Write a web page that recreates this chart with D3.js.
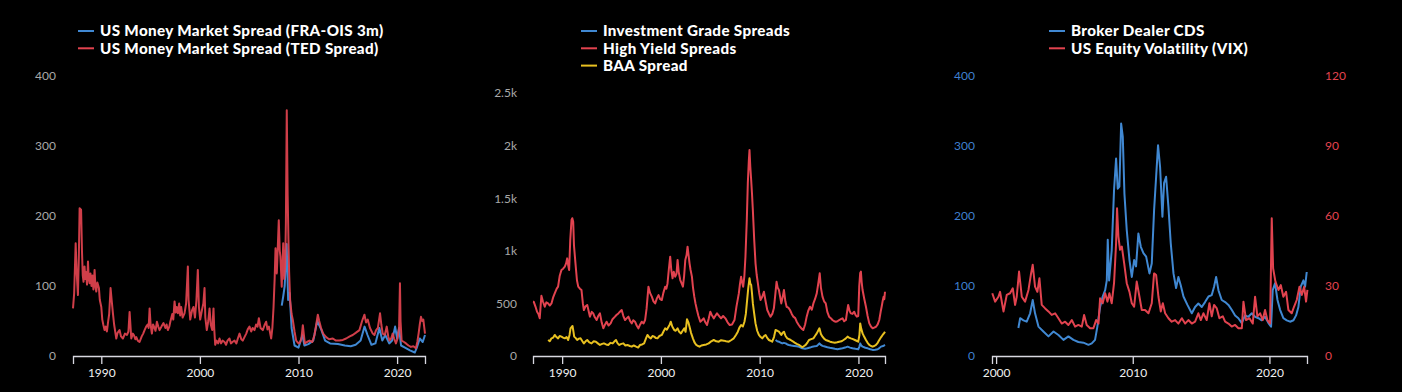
<!DOCTYPE html>
<html>
<head>
<meta charset="utf-8">
<script src="https://cdn.jsdelivr.net/npm/d3@7"></script>
<style>
  html, body { margin: 0; padding: 0; background: #000; }
  svg { display: block; }
  .tick text { font-family: Lato, "Open Sans", sans-serif; }
</style>
</head>
<body>
<svg id="chart" width="1402" height="392"></svg>
<script>
// ---------------- DATA ----------------
const xTickYears = [1990, 2000, 2010, 2020];
const xTickYears3 = [2000, 2010, 2020];
const yTicks1 = [0, 100, 200, 300, 400];
const yTicks2 = [0, 500, 1000, 1500, 2000, 2500];
const yTicks3Left = [0, 100, 200, 300, 400];
const yTicks3Right = [0, 30, 60, 90, 120];

const legend1 = ["US Money Market Spread (FRA-OIS 3m)", "US Money Market Spread (TED Spread)"];
const legend2 = ["Investment Grade Spreads", "High Yield Spreads", "BAA Spread"];
const legend3 = ["Broker Dealer CDS", "US Equity Volatility (VIX)"];

// Panel 1: TED spread (bp)
const tedSpread = [
 [1987.13,68],[1987.25,90],[1987.4,161],[1987.5,120],[1987.63,87],[1987.72,140],[1987.8,211],[1987.95,209],[1988.04,150],[1988.12,115],
 [1988.2,106],[1988.3,128],[1988.38,110],[1988.45,120],[1988.55,102],[1988.65,135],[1988.72,112],[1988.81,104],[1988.9,118],[1989.0,100],
 [1989.1,115],[1989.2,95],[1989.32,123],[1989.4,100],[1989.49,92],[1989.6,105],[1989.76,97],[1989.85,80],[1990.0,70],[1990.1,52],
 [1990.2,45],[1990.33,37],[1990.45,42],[1990.57,35],[1990.7,50],[1990.8,60],[1990.94,97],[1991.05,80],[1991.18,61],[1991.3,45],
 [1991.52,25],[1991.65,33],[1991.85,37],[1992.0,28],[1992.19,25],[1992.4,32],[1992.6,30],[1992.75,35],[1992.87,63],[1993.04,25],
 [1993.2,32],[1993.3,30],[1993.45,24],[1993.55,27],[1993.7,22],[1993.88,20],[1994.1,28],[1994.25,32],[1994.39,37],[1994.55,42],
 [1994.7,45],[1994.8,40],[1994.9,68],[1995.0,45],[1995.13,32],[1995.25,45],[1995.4,40],[1995.5,36],[1995.64,49],[1995.78,42],
 [1995.91,37],[1996.1,42],[1996.31,47],[1996.5,40],[1996.62,45],[1996.75,37],[1996.9,42],[1997.0,49],[1997.2,60],[1997.3,52],
 [1997.43,78],[1997.55,62],[1997.65,70],[1997.77,61],[1997.9,75],[1998.0,58],[1998.1,70],[1998.25,55],[1998.44,61],[1998.6,75],
 [1998.78,128],[1998.85,80],[1999.02,52],[1999.2,65],[1999.35,70],[1999.5,55],[1999.65,80],[1999.79,123],[1999.9,70],[2000.03,52],
 [2000.2,65],[2000.35,75],[2000.47,97],[2000.55,55],[2000.7,37],[2000.85,50],[2000.98,68],[2001.1,45],[2001.25,37],[2001.38,68],
 [2001.45,40],[2001.55,16],[2001.7,22],[2001.85,18],[2001.99,25],[2002.15,18],[2002.3,22],[2002.5,20],[2002.65,16],[2002.8,22],
 [2003.0,25],[2003.15,18],[2003.3,20],[2003.51,22],[2003.7,18],[2003.85,25],[2004.02,32],[2004.2,24],[2004.35,22],[2004.52,27],
 [2004.7,32],[2004.85,38],[2005.03,42],[2005.2,35],[2005.35,40],[2005.54,37],[2005.7,45],[2005.85,42],[2005.98,54],[2006.15,40],
 [2006.38,37],[2006.55,44],[2006.72,49],[2006.85,38],[2007.0,42],[2007.23,25],[2007.35,40],[2007.47,70],[2007.58,110],[2007.67,154],
 [2007.8,118],[2008.0,194],[2008.1,150],[2008.17,142],[2008.3,99],[2008.45,161],[2008.55,110],[2008.65,130],[2008.72,190],[2008.81,351],
 [2008.9,230],[2008.98,166],[2009.05,120],[2009.15,80],[2009.3,60],[2009.42,52],[2009.6,35],[2009.76,22],[2010.0,18],[2010.17,20],
 [2010.3,25],[2010.44,44],[2010.55,30],[2010.64,18],[2010.85,20],[2011.11,22],[2011.4,20],[2011.62,30],[2011.8,45],[2011.96,59],
 [2012.1,50],[2012.29,40],[2012.5,32],[2012.8,27],[2013.1,24],[2013.48,25],[2013.8,22],[2014.15,22],[2014.5,23],[2014.83,25],
 [2015.2,28],[2015.5,30],[2015.8,33],[2016.18,37],[2016.45,50],[2016.69,59],[2016.85,48],[2017.02,52],[2017.25,40],[2017.53,32],
 [2017.7,30],[2017.87,37],[2018.05,40],[2018.27,61],[2018.4,45],[2018.54,32],[2018.75,30],[2018.95,42],[2019.1,28],[2019.22,22],
 [2019.4,25],[2019.55,32],[2019.7,25],[2019.88,18],[2020.05,25],[2020.2,40],[2020.29,104],[2020.35,50],[2020.46,22],[2020.7,20],
 [2020.9,18],[2021.15,15],[2021.4,13],[2021.65,14],[2021.91,11],[2022.05,20],[2022.18,32],[2022.3,45],[2022.42,56],[2022.55,50],
 [2022.66,52],[2022.83,32]
];
// Panel 1: FRA-OIS 3m (bp)
const fraOis = [
 [2008.3,72],[2008.45,85],[2008.6,100],[2008.8,160],[2008.95,80],[2009.1,90],[2009.3,40],[2009.6,15],[2010.0,12],[2010.4,30],
 [2010.6,15],[2011.0,17],[2011.5,22],[2011.9,50],[2012.3,38],[2012.7,22],[2013.2,18],[2014.0,17],[2014.7,15],[2015.3,14],
 [2015.8,16],[2016.3,22],[2016.7,42],[2017.0,30],[2017.4,16],[2017.8,18],[2018.2,40],[2018.5,22],[2018.8,30],[2019.2,18],
 [2019.5,22],[2019.8,42],[2020.0,25],[2020.2,40],[2020.4,15],[2020.8,12],[2021.3,8],[2021.8,5],[2022.0,12],[2022.3,25],
 [2022.6,20],[2022.83,30]
];

// Panel 2: High yield spreads (bp)
const highYield = [
 [1987.05,516],[1987.12,516],[1987.3,470],[1987.46,421],[1987.6,400],[1987.73,358],[1987.9,573],[1988.05,520],[1988.24,468],[1988.4,510],
 [1988.58,500],[1988.75,480],[1988.92,500],[1989.1,560],[1989.25,595],[1989.45,640],[1989.59,659],[1989.75,760],[1989.93,817],[1990.1,830],
 [1990.27,849],[1990.4,880],[1990.51,928],[1990.62,860],[1990.71,817],[1990.82,1100],[1990.95,1293],[1991.03,1310],[1991.12,1277],[1991.2,1050],
 [1991.35,881],[1991.5,720],[1991.63,659],[1991.8,640],[1991.96,627],[1992.1,500],[1992.2,437],[1992.35,470],[1992.54,485],[1992.7,420],
 [1992.81,374],[1993.0,420],[1993.15,405],[1993.3,370],[1993.49,342],[1993.65,380],[1993.83,405],[1994.0,320],[1994.17,263],[1994.35,300],
 [1994.5,326],[1994.7,290],[1994.91,310],[1995.1,350],[1995.35,374],[1995.5,390],[1995.69,405],[1995.85,420],[1996.03,437],[1996.2,380],
 [1996.37,342],[1996.55,360],[1996.71,374],[1996.9,330],[1997.05,310],[1997.2,340],[1997.38,326],[1997.55,290],[1997.72,263],[1997.9,300],
 [1998.06,326],[1998.25,310],[1998.4,342],[1998.55,450],[1998.74,659],[1998.9,600],[1999.08,564],[1999.25,520],[1999.42,500],[1999.6,550],
 [1999.76,579],[1999.92,540],[2000.09,532],[2000.25,600],[2000.43,659],[2000.55,640],[2000.67,690],[2000.8,820],[2000.94,944],[2001.05,820],
 [2001.18,738],[2001.3,800],[2001.45,754],[2001.58,780],[2001.69,913],[2001.8,800],[2001.96,722],[2002.1,690],[2002.23,659],[2002.35,760],
 [2002.47,913],[2002.6,960],[2002.7,1039],[2002.8,960],[2002.9,881],[2003.0,820],[2003.14,754],[2003.25,650],[2003.38,564],[2003.5,500],
 [2003.65,437],[2003.8,380],[2003.99,326],[2004.15,340],[2004.33,358],[2004.5,320],[2004.67,294],[2004.85,360],[2005.0,421],[2005.15,390],
 [2005.35,358],[2005.5,380],[2005.68,405],[2005.9,380],[2006.09,358],[2006.3,380],[2006.53,358],[2006.75,320],[2006.97,294],[2007.2,300],
 [2007.45,342],[2007.65,470],[2007.89,595],[2008.0,680],[2008.12,754],[2008.22,700],[2008.33,659],[2008.45,760],[2008.56,944],[2008.7,1300],
 [2008.8,1641],[2008.9,1850],[2008.97,1958],[2009.05,1800],[2009.14,1673],[2009.22,1550],[2009.31,1388],[2009.45,1100],[2009.58,881],[2009.7,770],
 [2009.82,690],[2009.95,600],[2010.09,532],[2010.25,560],[2010.43,611],[2010.6,520],[2010.77,437],[2010.95,400],[2011.1,374],[2011.28,400],
 [2011.44,453],[2011.6,600],[2011.71,706],[2011.82,650],[2011.95,627],[2012.08,560],[2012.19,500],[2012.33,560],[2012.46,627],[2012.6,520],
 [2012.73,468],[2012.9,460],[2013.07,437],[2013.25,400],[2013.41,374],[2013.6,360],[2013.75,326],[2013.92,300],[2014.08,278],[2014.25,260],
 [2014.42,247],[2014.6,300],[2014.76,374],[2014.92,430],[2015.1,468],[2015.28,440],[2015.44,500],[2015.6,540],[2015.78,595],[2015.95,700],
 [2016.08,786],[2016.2,650],[2016.36,564],[2016.52,520],[2016.69,500],[2016.85,420],[2017.03,374],[2017.2,360],[2017.37,342],[2017.55,330],
 [2017.71,326],[2017.88,330],[2018.05,342],[2018.22,350],[2018.39,358],[2018.55,330],[2018.73,342],[2018.85,420],[2018.96,485],[2019.1,430],
 [2019.23,405],[2019.4,400],[2019.57,421],[2019.7,390],[2019.84,374],[2019.98,380],[2020.08,659],[2020.18,790],[2020.25,802],[2020.33,700],
 [2020.42,627],[2020.6,540],[2020.76,468],[2020.93,380],[2021.1,310],[2021.27,280],[2021.44,263],[2021.6,270],[2021.78,278],[2021.95,300],
 [2022.11,342],[2022.25,420],[2022.35,468],[2022.45,520],[2022.55,564],[2022.62,540],[2022.69,611]
];
// Panel 2: BAA spread (bp)
const baaSpread = [
 [1988.58,152],[1988.75,140],[1988.92,168],[1989.1,175],[1989.25,200],[1989.42,180],[1989.59,168],[1989.75,190],[1989.93,184],[1990.1,175],
 [1990.27,168],[1990.45,180],[1990.61,152],[1990.75,200],[1990.85,263],[1991.05,285],[1991.15,230],[1991.22,184],[1991.38,170],[1991.52,152],
 [1991.7,165],[1991.86,168],[1992.05,140],[1992.2,120],[1992.38,140],[1992.54,152],[1992.75,130],[1992.98,120],[1993.2,140],[1993.42,136],
 [1993.62,120],[1993.83,105],[1994.05,115],[1994.23,120],[1994.45,110],[1994.67,105],[1994.9,125],[1995.12,120],[1995.3,140],[1995.45,152],
 [1995.62,120],[1995.79,105],[1996.0,115],[1996.2,120],[1996.4,100],[1996.61,105],[1996.85,95],[1997.05,89],[1997.25,100],[1997.49,89],
 [1997.7,80],[1997.89,105],[1998.1,110],[1998.3,120],[1998.5,170],[1998.64,200],[1998.8,180],[1998.98,168],[1999.15,190],[1999.32,184],
 [1999.5,170],[1999.65,168],[1999.85,190],[2000.09,200],[2000.25,230],[2000.43,263],[2000.6,250],[2000.77,278],[2000.9,300],[2001.0,326],
 [2001.15,280],[2001.35,247],[2001.5,240],[2001.69,263],[2001.85,230],[2002.03,215],[2002.2,240],[2002.37,263],[2002.5,230],[2002.64,349],
 [2002.78,320],[2002.9,278],[2003.05,220],[2003.24,168],[2003.4,130],[2003.58,105],[2003.75,95],[2003.92,89],[2004.1,100],[2004.33,105],
 [2004.6,110],[2004.84,120],[2005.1,140],[2005.35,152],[2005.6,140],[2005.86,136],[2006.1,150],[2006.36,146],[2006.6,140],[2006.87,136],
 [2007.1,150],[2007.38,168],[2007.6,200],[2007.79,231],[2007.95,270],[2008.12,294],[2008.3,280],[2008.46,326],[2008.6,400],[2008.73,532],
 [2008.85,650],[2008.97,738],[2009.05,690],[2009.14,675],[2009.22,600],[2009.31,500],[2009.45,400],[2009.58,310],[2009.75,240],[2009.92,200],
 [2010.1,180],[2010.26,168],[2010.45,190],[2010.6,200],[2010.78,170],[2010.94,152],[2011.1,145],[2011.27,136],[2011.45,180],[2011.61,247],
 [2011.78,240],[2011.95,231],[2012.08,215],[2012.19,200],[2012.32,220],[2012.46,231],[2012.62,190],[2012.8,168],[2012.97,160],[2013.14,152],
 [2013.35,140],[2013.54,127],[2013.75,115],[2013.98,105],[2014.15,95],[2014.32,83],[2014.5,95],[2014.66,105],[2014.85,130],[2015.0,152],
 [2015.22,160],[2015.44,168],[2015.6,190],[2015.78,215],[2015.92,240],[2016.05,263],[2016.2,210],[2016.36,184],[2016.52,165],[2016.69,152],
 [2016.9,145],[2017.13,136],[2017.35,130],[2017.61,127],[2017.85,130],[2018.05,136],[2018.28,140],[2018.49,152],[2018.7,165],[2018.9,184],
 [2019.05,175],[2019.23,168],[2019.45,160],[2019.64,152],[2019.8,145],[2019.98,136],[2020.1,200],[2020.18,310],[2020.28,260],[2020.42,215],
 [2020.6,180],[2020.76,152],[2020.93,125],[2021.1,105],[2021.27,95],[2021.44,89],[2021.6,95],[2021.78,105],[2021.95,125],[2022.11,152],
 [2022.3,180],[2022.45,200],[2022.58,215],[2022.69,231]
];
// Panel 2: Investment grade spreads (bp)
const invGrade = [
 [2011.61,152],[2011.78,140],[2011.95,136],[2012.12,128],[2012.29,120],[2012.45,125],[2012.63,120],[2012.8,110],[2012.97,105],[2013.2,100],
 [2013.48,96],[2013.75,92],[2013.98,89],[2014.15,80],[2014.32,73],[2014.6,70],[2014.83,73],[2015.1,80],[2015.34,89],[2015.55,92],
 [2015.78,96],[2015.92,108],[2016.05,120],[2016.2,105],[2016.36,96],[2016.6,90],[2016.86,83],[2017.1,78],[2017.37,73],[2017.62,68],
 [2017.88,64],[2018.12,68],[2018.39,73],[2018.65,80],[2018.9,89],[2019.15,80],[2019.4,73],[2019.7,68],[2019.98,64],[2020.1,90],
 [2020.18,120],[2020.28,100],[2020.42,89],[2020.7,78],[2020.93,73],[2021.2,64],[2021.44,58],[2021.7,60],[2021.95,64],[2022.12,75],
 [2022.28,89],[2022.5,95],[2022.69,105]
];

// Panel 3: Broker dealer CDS (bp, left axis)
const brokerCds = [
 [2001.63,40],[2001.76,54],[2002.0,51],[2002.24,49],[2002.49,61],[2002.68,80],[2002.85,61],[2003.1,42],[2003.46,35],[2003.83,28],
 [2004.2,35],[2004.56,30],[2004.93,23],[2005.29,28],[2005.66,23],[2006.02,20],[2006.39,19],[2006.76,16],[2007.0,18],[2007.24,23],
 [2007.41,42],[2007.61,70],[2007.8,85],[2007.98,94],[2008.1,108],[2008.17,166],[2008.27,108],[2008.46,151],[2008.63,237],[2008.78,282],
 [2008.9,239],[2009.02,242],[2009.15,332],[2009.27,313],[2009.39,232],[2009.56,180],[2009.76,137],[2009.93,113],[2010.1,137],[2010.24,128],
 [2010.41,175],[2010.59,156],[2010.78,147],[2010.98,142],[2011.22,118],[2011.39,132],[2011.56,208],[2011.71,256],[2011.85,301],[2012.0,270],
 [2012.17,199],[2012.29,247],[2012.44,256],[2012.61,213],[2012.78,161],[2012.98,118],[2013.17,97],[2013.34,113],[2013.51,101],[2013.71,85],
 [2014.0,73],[2014.32,61],[2014.56,70],[2014.8,75],[2015.05,70],[2015.29,77],[2015.54,85],[2015.78,87],[2015.95,99],[2016.1,113],
 [2016.27,94],[2016.51,80],[2016.76,77],[2017.0,73],[2017.24,66],[2017.49,58],[2017.73,54],[2017.98,47],[2018.22,58],[2018.46,56],
 [2018.71,61],[2018.95,56],[2019.2,54],[2019.44,51],[2019.68,56],[2019.93,47],[2020.12,42],[2020.24,94],[2020.41,104],[2020.59,80],
 [2020.78,66],[2021.02,54],[2021.27,51],[2021.51,49],[2021.76,51],[2021.95,58],[2022.12,70],[2022.29,99],[2022.49,108],[2022.61,99],
 [2022.73,120]
];
// Panel 3: VIX (right axis)
const vix = [
 [1999.72,26.9],[1999.93,23.3],[2000.17,25.4],[2000.29,27.5],[2000.54,19.1],[2000.78,26.2],[2001.02,26.9],[2001.22,29.0],[2001.39,21.9],[2001.51,25.4],
 [2001.68,36.2],[2001.88,25.4],[2002.12,23.3],[2002.37,28.3],[2002.54,34.7],[2002.68,39.1],[2002.85,29.7],[2003.02,27.5],[2003.17,33.3],[2003.34,21.9],
 [2003.59,20.4],[2003.83,19.1],[2004.07,17.6],[2004.32,18.3],[2004.56,16.2],[2004.8,13.9],[2005.05,14.7],[2005.29,13.3],[2005.54,15.4],[2005.78,12.6],
 [2006.02,13.3],[2006.27,12.6],[2006.44,17.6],[2006.63,13.3],[2006.88,11.9],[2007.12,11.9],[2007.32,15.4],[2007.49,13.9],[2007.61,24.7],[2007.8,22.6],
 [2007.98,26.9],[2008.15,23.3],[2008.29,26.9],[2008.46,22.6],[2008.63,31.2],[2008.78,48.3],[2008.85,63.3],[2008.95,51.2],[2009.07,45.5],[2009.2,46.9],
 [2009.37,39.8],[2009.56,31.2],[2009.76,27.5],[2009.93,22.6],[2010.1,21.1],[2010.29,31.9],[2010.49,25.4],[2010.66,19.7],[2010.9,19.7],[2011.15,18.3],
 [2011.39,22.6],[2011.56,35.4],[2011.71,34.7],[2011.88,25.4],[2012.05,19.1],[2012.2,22.6],[2012.37,18.3],[2012.61,16.2],[2012.85,14.7],[2013.1,15.4],
 [2013.34,13.9],[2013.59,16.2],[2013.83,13.9],[2014.07,15.4],[2014.32,13.9],[2014.56,14.7],[2014.8,18.3],[2014.98,15.4],[2015.17,18.3],[2015.41,15.4],
 [2015.61,22.6],[2015.78,17.0],[2015.95,21.9],[2016.15,20.4],[2016.34,16.2],[2016.59,17.0],[2016.76,14.7],[2017.0,13.9],[2017.24,12.6],[2017.49,13.3],
 [2017.73,11.9],[2017.98,11.9],[2018.1,23.3],[2018.29,15.4],[2018.54,16.2],[2018.78,13.9],[2018.95,25.4],[2019.12,17.0],[2019.32,18.3],[2019.51,15.4],
 [2019.68,19.7],[2019.85,15.4],[2020.05,13.9],[2020.17,59.0],[2020.27,37.6],[2020.44,31.9],[2020.66,28.3],[2020.83,30.4],[2021.02,25.4],[2021.22,27.5],
 [2021.39,19.7],[2021.63,18.3],[2021.8,21.1],[2022.0,24.0],[2022.2,29.7],[2022.37,26.2],[2022.54,29.7],[2022.68,23.3],[2022.78,28.3]
];

// ---------------- STYLE ----------------
const BLUE = "#4088d2", RED = "#e2434f", YELLOW = "#e8c020";
const AXIS_GREY = "#a8a8a8", TEXT_WHITE = "#ffffff";
const svg = d3.select("#chart");
svg.append("rect").attr("width", 1402).attr("height", 392).attr("fill", "#000");

function xAxis(g, x, ticks) {
  g.call(d3.axisBottom(x).tickValues(ticks).tickFormat(d3.format("d")).tickSizeOuter(0).tickSize(8).tickPadding(4));
  g.select(".domain").attr("stroke", "#d8d8e0").attr("stroke-width", 1.3);
  g.selectAll(".tick line").attr("stroke", "#d8d8e0").attr("stroke-width", 1.3);
  g.selectAll(".tick text").attr("fill", "#f0f0f0").attr("font-size", 12);
}
function yAxis(g, axis, color) {
  g.call(axis.tickSize(0).tickPadding(3));
  g.select(".domain").remove();
  g.selectAll(".tick text").attr("fill", color).attr("font-size", 12);
}
function legend(x0, y0, labels, colors) {
  const g = svg.append("g");
  labels.forEach((t, i) => {
    const y = y0 + i * 17.3;
    g.append("line").attr("x1", x0).attr("x2", x0 + 16).attr("y1", y).attr("y2", y)
      .attr("stroke", colors[i]).attr("stroke-width", 2);
    g.append("text").attr("x", x0 + 22).attr("y", y).attr("dy", "0.35em")
      .attr("fill", TEXT_WHITE).attr("font-family", "Lato, 'Open Sans', sans-serif")
      .attr("font-weight", 900).attr("font-size", 15.2).attr("letter-spacing", 0.35).text(t);
  });
}
function drawLine(data, x, y, color, opacity) {
  svg.append("path").datum(data)
    .attr("fill", "none").attr("stroke", color).attr("stroke-width", 2)
    .attr("stroke-linejoin", "round").attr("opacity", opacity || 1)
    .attr("d", d3.line().x(d => x(d[0])).y(d => y(d[1])));
}

const Y0 = 356;

// ---------------- PANEL 1 ----------------
{
  const x = d3.scaleLinear().domain(d3.extent(tedSpread.concat(fraOis), d => d[0])).range([73, 425]);
  const y = d3.scaleLinear().domain([0, 400]).range([Y0, 76]);
  svg.append("g").attr("transform", `translate(59,0)`)
    .call(g => yAxis(g, d3.axisLeft(y).tickValues(yTicks1), AXIS_GREY));
  drawLine(fraOis, x, y, BLUE);
  drawLine(tedSpread, x, y, RED, 0.92);
  svg.append("g").attr("transform", `translate(0,${Y0})`).call(g => xAxis(g, x, xTickYears));
  legend(78, 31, legend1, [BLUE, RED]);
}

// ---------------- PANEL 2 ----------------
{
  const x = d3.scaleLinear().domain(d3.extent(highYield, d => d[0])).range([533, 885]);
  const y = d3.scaleLinear().domain([0, 2500]).range([Y0, 93]);
  const fmt = d => d === 0 ? "0" : d >= 1000 ? (d / 1000) + "k" : String(d);
  svg.append("g").attr("transform", `translate(520,0)`)
    .call(g => yAxis(g, d3.axisLeft(y).tickValues(yTicks2).tickFormat(fmt), AXIS_GREY));
  drawLine(invGrade, x, y, BLUE);
  drawLine(highYield, x, y, RED);
  drawLine(baaSpread, x, y, YELLOW);
  svg.append("g").attr("transform", `translate(0,${Y0})`).call(g => xAxis(g, x, xTickYears));
  legend(581, 31, legend2, [BLUE, RED, YELLOW]);
}

// ---------------- PANEL 3 ----------------
{
  const x = d3.scaleLinear().domain([1999.7, 2022.75]).range([992, 1307]);
  const yL = d3.scaleLinear().domain([0, 400]).range([Y0, 76]);
  const yR = d3.scaleLinear().domain([0, 120]).range([Y0, 76]);
  svg.append("g").attr("transform", `translate(978,0)`)
    .call(g => yAxis(g, d3.axisLeft(yL).tickValues(yTicks3Left), "#3f7fcf"));
  svg.append("g").attr("transform", `translate(1322,0)`)
    .call(g => yAxis(g, d3.axisRight(yR).tickValues(yTicks3Right), "#e2434f"));
  drawLine(brokerCds, x, yL, BLUE);
  drawLine(vix, x, yR, RED);
  svg.append("g").attr("transform", `translate(0,${Y0})`).call(g => xAxis(g, x, xTickYears3));
  legend(1049, 31, legend3, [BLUE, RED]);
}
</script>
</body>
</html>
